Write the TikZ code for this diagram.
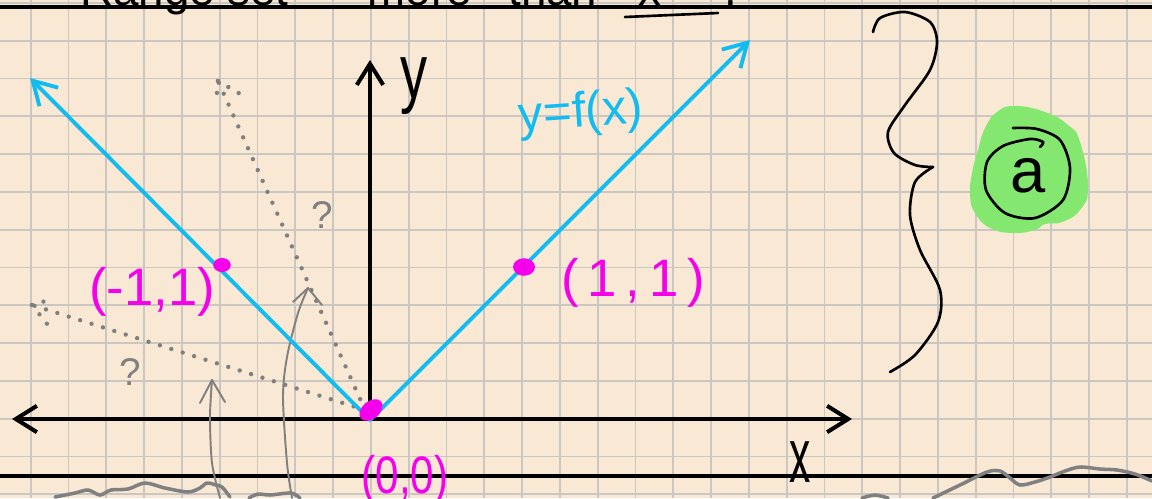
\documentclass[tikz,border=0pt]{standalone}
\usepackage{fontspec}
\usepackage{graphicx}
\setmainfont{Liberation Sans}
\usetikzlibrary{arrows.meta,shapes.geometric}
\definecolor{paper}{RGB}{249,233,212}
\definecolor{gridc}{RGB}{202,198,194}
\definecolor{skyb}{RGB}{18,188,240}
\definecolor{mag}{RGB}{245,0,235}
\definecolor{pen}{RGB}{128,128,128}
\definecolor{blobc}{RGB}{132,232,112}
\tikzset{
  gridline/.style={gridc, line width=1pt},
  ruleline/.style={black, line width=2.2pt},
  axisline/.style={black, line width=2.3pt, line cap=round},
  fline/.style={skyb, line width=2.2pt, line cap=round},
  dotline/.style={pen, line width=2.5pt, line cap=round, dash pattern=on 0pt off 6.8pt},
  penline/.style={pen, line width=1.1pt, line cap=round, line join=round},
  squig/.style={pen, line width=2pt, line cap=round},
  inkline/.style={black, line width=1.5pt, line cap=round},
  mdot/.style={ellipse, fill=mag, inner sep=0pt},
  mlabel/.style={text=mag, font=\fontsize{30}{34}\selectfont, inner sep=0pt},
  toptext/.style={font=\fontsize{26}{30}\selectfont, inner sep=0pt},
  barb/.style={-{Straight Barb[length=12pt,width=15pt]}},
  bluebarb/.style={-{Straight Barb[length=13pt,width=15pt]}}
}
\begin{document}
\begin{tikzpicture}[x=0.02cm,y=-0.02cm]
\useasboundingbox (0,0) rectangle (1152,498);
\fill[paper] (0,0) rectangle (1152,498);
% grid
\foreach \k in {0,...,30} {
  \pgfmathsetmacro{\gx}{-7.1+37.8*\k}
  \draw[gridline] (\gx,0) -- (\gx,498);
}
\foreach \j in {0,...,13} {
  \pgfmathsetmacro{\gy}{2.9+37.8*\j}
  \draw[gridline] (0,\gy) -- (1152,\gy);
}
% ruled lines
\coordinate (R1a) at (0,7); \coordinate (R1b) at (1152,7);
\coordinate (R2a) at (0,476); \coordinate (R2b) at (1152,476);
\draw[ruleline] (R1a) -- (R1b);
\draw[ruleline] (R2a) -- (R2b);
% top handwriting (cut off by the page edge)
\node[toptext, anchor=base west] (t1) at (80,5) {Range set};
\node[toptext, anchor=base east] (t2) at (472,5) {more};
\node[toptext, anchor=base west] (t3) at (508,5) {than};
\node[toptext, anchor=base west] (t4) at (638,5) {x};
\node[toptext, anchor=base west] (t5) at (724,5) {.};
\coordinate (U1) at (625,17); \coordinate (U2) at (718,13);
\draw[inkline] (U1) -- (U2);
% axes
\coordinate (O) at (370,420);
\coordinate (XL) at (12,419);
\coordinate (XR) at (852,419);
\coordinate (YB) at (370,419);
\coordinate (YT) at (370,60);
\draw[axisline, {Straight Barb[length=12pt,width=15pt]}-{Straight Barb[length=12pt,width=15pt]}] (XL) -- (XR);
\draw[axisline, barb] (YB) -- (YT);
\node[font=\fontsize{44}{48}\selectfont, inner sep=0pt] (ylab) at (414,86) {\scalebox{0.7}[1]{y}};
\node[font=\fontsize{44}{48}\selectfont, inner sep=0pt] (xlab) at (800,462) {\scalebox{0.55}[1]{x}};
% gray dotted arrows
\coordinate (Od) at (365,410);
\coordinate (D1) at (218,81);
\coordinate (D1a) at (216,104);
\coordinate (D1b) at (242,95);
\coordinate (D2) at (32,305);
\coordinate (D2a) at (52,299);
\coordinate (D2b) at (48,325);
\draw[dotline] (Od) -- (D1);
\draw[dotline] (D1) -- (D1a);
\draw[dotline] (D1) -- (D1b);
\draw[dotline] (Od) -- (D2);
\draw[dotline] (D2) -- (D2a);
\draw[dotline] (D2) -- (D2b);
\node[text=pen, font=\fontsize{22}{26}\selectfont, inner sep=0pt] (q1) at (322,215) {?};
\node[text=pen, font=\fontsize{22}{26}\selectfont, inner sep=0pt] (q2) at (130,372) {?};
% gray solid arrows
\coordinate (A1s) at (220,498);
\coordinate (A1t) at (212,380);
\coordinate (A1a) at (200,403);
\coordinate (A1b) at (225,402);
\draw[penline] plot[smooth] coordinates {(A1s) (212,463) (210,417) (A1t)};
\draw[penline] (A1a) -- (A1t) -- (A1b);
\coordinate (A2s) at (292,498);
\coordinate (A2t) at (308,288);
\coordinate (A2a) at (293,302);
\coordinate (A2b) at (322,305);
\draw[penline] plot[smooth] coordinates {(A2s) (287,463) (283,397) (287,357) (298,313) (A2t)};
\draw[penline] (A2a) -- (A2t) -- (A2b);
% blue function
\coordinate (BR) at (750,40);
\coordinate (BL) at (30,78);
\draw[fline, bluebarb] (O) -- (BR);
\draw[fline, bluebarb] (O) -- (BL);
\node[text=skyb, font=\fontsize{28}{32}\selectfont, inner sep=0pt, rotate=4] (flab) at (581,114) {y=f(x)};
% magenta points
\node[mdot, minimum width=10pt, minimum height=8pt] (P1) at (222,265) {};
\node[mdot, minimum width=12.5pt, minimum height=10pt] (P2) at (524,267) {};
\node[mdot, minimum width=15pt, minimum height=10pt, rotate=40] (P0) at (371,410) {};
\node[mlabel] (L1) at (152,292) {(-1,1)};
\node[mlabel] (L2) at (633,283) {(\,1\,,\,1\,)};
\node[mlabel] (L0) at (405,480) {\scalebox{0.8}[1]{(0,0)}};
% bottom squiggles
\draw[squig] plot[smooth] coordinates {(55,497) (75,493) (88,490) (100,495) (111,490) (128,489) (145,483) (165,488) (188,492) (200,488) (207,483) (216,485) (222,487) (230,497)};
\draw[squig] plot[smooth] coordinates {(249,498) (258,494) (270,495) (291,493) (300,498)};
\draw[squig] plot[smooth] coordinates {(862,498) (875,495) (888,498)};
\draw[squig] plot[smooth] coordinates {(933,498) (960,485) (987,472) (1000,471) (1010,478) (1020,485) (1035,482) (1050,477) (1065,471) (1080,467) (1100,469) (1117,470) (1135,474) (1152,481)};
% curly brace
\draw[inkline] plot[smooth] coordinates {(873,32) (880,18) (905,12) (930,22) (937,42) (930,70) (905,105) (888,132) (894,153) (915,165) (933,167)};
\draw[inkline] plot[smooth] coordinates {(933,167) (915,182) (910,215) (920,250) (940,290) (938,322) (915,355) (890,372)};
% green highlight with circled a
\fill[blobc] plot[smooth cycle, tension=0.8] coordinates {(1015,106) (1045,112) (1068,125) (1080,142) (1088,187) (1080,210) (1062,222) (1045,224) (1035,230) (1013,233) (990,228) (975,213) (970,195) (972,173) (978,150) (985,128) (997,112)};
\draw[inkline] plot[smooth] coordinates {(1013,128) (1037,129) (1060,140) (1070,168) (1063,200) (1035,218) (1005,213) (986,190) (987,162) (1003,146) (1030,139) (1043,142) (1040,147)};
\node[font=\fontsize{36}{40}\selectfont, inner sep=0pt] (alab) at (1028,176) {a};
\end{tikzpicture}
\end{document}
